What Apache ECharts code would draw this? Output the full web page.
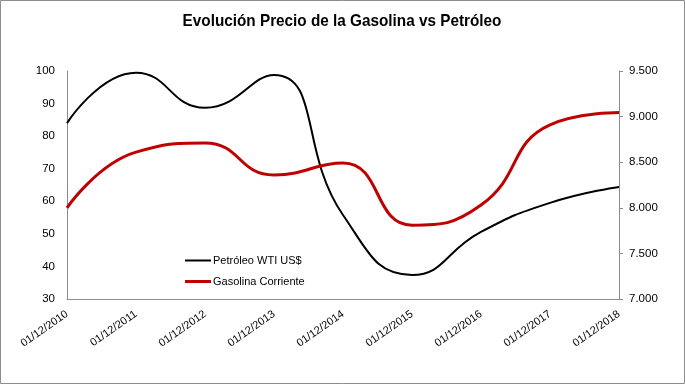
<!DOCTYPE html>
<html>
<head>
<meta charset="utf-8">
<script src="https://cdn.jsdelivr.net/npm/echarts@6/dist/echarts.min.js"></script>
<style>
html,body{margin:0;padding:0;background:#fff;}
#c{width:685px;height:384px;}
</style>
</head>
<body>
<div id="c"></div>
<script>
var categories = ['01/12/2010','01/12/2011','01/12/2012','01/12/2013','01/12/2014','01/12/2015','01/12/2016','01/12/2017','01/12/2018'];
var petroleo = [84, 99.5, 88.7, 98.8, 55.8, 37.4, 50.6, 59.5, 64.4];
var gasolina = [8000, 8610, 8710, 8360, 8490, 7810, 8030, 8910, 9045];
var seriesNames = ['Petróleo WTI US$', 'Gasolina Corriente'];
var titleText = 'Evolución Precio de la Gasolina vs Petróleo';

var chart = echarts.init(document.getElementById('c'), null, {renderer:'canvas'});
var fam = 'Liberation Sans, Arial, sans-serif';
var axisFont = {color:'#000', fontFamily:fam, fontSize:11.5};
var legendText = {fontFamily:fam, fontSize:11, color:'#000', padding:[0,0,0,-3]};
chart.setOption({
  backgroundColor:'#fff',
  animation:false,
  graphic:[
    {type:'rect', shape:{x:0.5,y:0.5,width:684,height:383}, style:{fill:'none', stroke:'#8c8c8c', lineWidth:1}, silent:true},
    {type:'text', x:342, y:21, scaleX:0.9, silent:true,
     style:{text:titleText, textAlign:'center', textVerticalAlign:'middle', fill:'#000',
            font:'bold 17px Liberation Sans, Arial, sans-serif'}}
  ],
  grid:{left:67, right:66, top:71, bottom:85},
  legend:[
    {orient:'vertical', left:185, top:255, padding:0, itemWidth:26, itemHeight:2,
     icon:'rect', textStyle:legendText, data:[{name:seriesNames[0]}]},
    {orient:'vertical', left:185, top:276, padding:0, itemWidth:26, itemHeight:3,
     icon:'rect', textStyle:legendText, data:[{name:seriesNames[1]}]}
  ],
  xAxis:{type:'category', data:categories, boundaryGap:false,
    axisLine:{lineStyle:{color:'#8c8c8c'}}, axisTick:{show:false},
    axisLabel:{rotate:35, margin:14, interval:0, color:'#000', fontFamily:fam, fontSize:11}},
  yAxis:[
    {type:'value', min:30, max:100, interval:10, position:'left',
     axisLine:{show:true, lineStyle:{color:'#8c8c8c'}}, axisTick:{show:false}, splitLine:{show:false},
     axisLabel:Object.assign({margin:12}, axisFont)},
    {type:'value', min:7000, max:9500, interval:500, position:'right',
     axisLine:{show:true, lineStyle:{color:'#8c8c8c'}}, axisTick:{show:true, length:4, lineStyle:{color:'#8c8c8c'}}, splitLine:{show:false},
     axisLabel:Object.assign({margin:10, formatter:function(v){return v.toFixed(0).replace(/\B(?=(\d{3})+(?!\d))/g,'.');}}, axisFont)}
  ],
  series:[
    {name:seriesNames[0], type:'line', yAxisIndex:0, data:petroleo, smooth:0.5, showSymbol:false,
     lineStyle:{color:'#000', width:2}, itemStyle:{color:'#000'}},
    {name:seriesNames[1], type:'line', yAxisIndex:1, data:gasolina, smooth:0.5, showSymbol:false,
     lineStyle:{color:'#c00000', width:3}, itemStyle:{color:'#c00000'}}
  ]
});
</script>
</body>
</html>
